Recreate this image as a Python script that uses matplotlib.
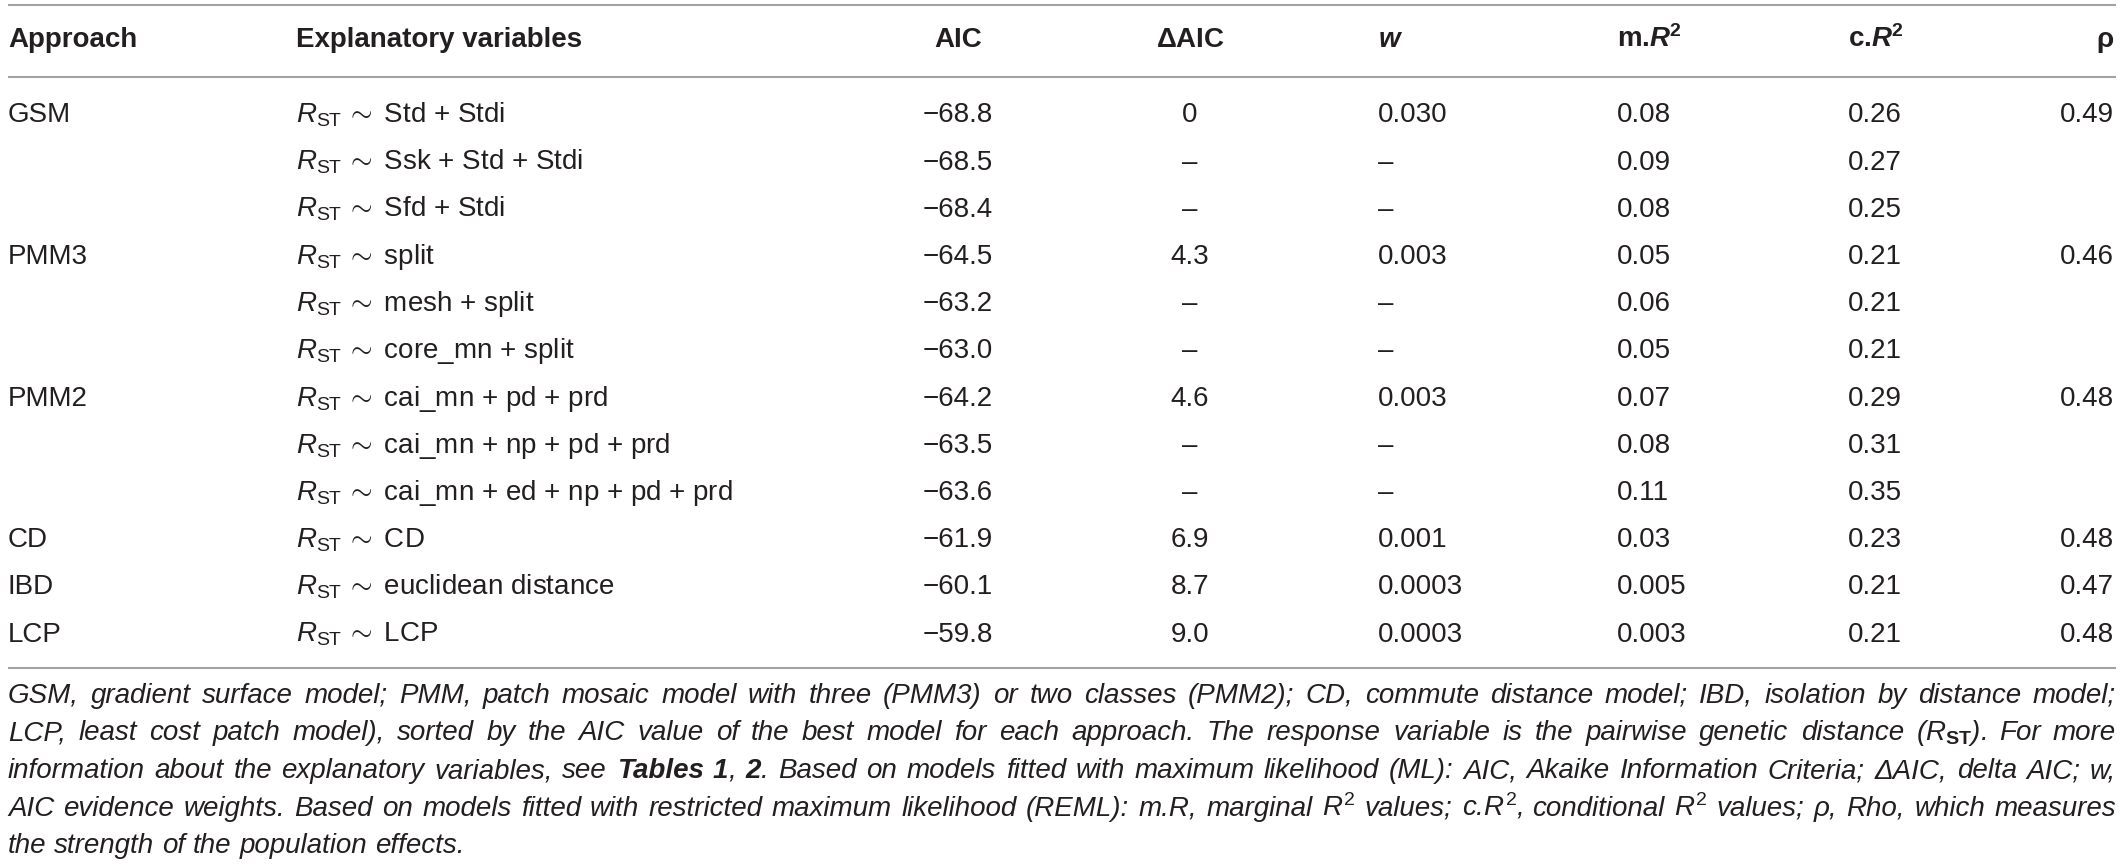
import matplotlib
matplotlib.use("Agg")
import matplotlib.pyplot as plt

plt.rcParams["font.family"] = ["Liberation Sans", "DejaVu Sans"]
plt.rcParams["mathtext.fontset"] = "custom"
plt.rcParams["mathtext.rm"] = "Liberation Sans"
plt.rcParams["mathtext.it"] = "Liberation Sans:italic"
plt.rcParams["mathtext.bf"] = "Liberation Sans:bold"
plt.rcParams["mathtext.bfit"] = "Liberation Sans:italic:bold"

# table content
headers = ["Approach", "Explanatory variables", "AIC", r"$\mathbf{\Delta}$AIC",
           r"$\mathbfit{w}$", r"m.$\mathbfit{R}^{\mathbf{2}}$", r"c.$\mathbfit{R}^{\mathbf{2}}$", "ρ"]
approach = ["GSM", "", "", "PMM3", "", "", "PMM2", "", "", "CD", "IBD", "LCP"]
formulas = ["Std + Stdi", "Ssk + Std + Stdi", "Sfd + Stdi", "split", "mesh + split",
            "core_mn + split", "cai_mn + pd + prd", "cai_mn + np + pd + prd",
            "cai_mn + ed + np + pd + prd", "CD", "euclidean distance", "LCP"]
aic = [-68.8, -68.5, -68.4, -64.5, -63.2, -63.0, -64.2, -63.5, -63.6, -61.9, -60.1, -59.8]
delta_aic = ["0", "–", "–", "4.3", "–", "–", "4.6", "–", "–", "6.9", "8.7", "9.0"]
weights = ["0.030", "–", "–", "0.003", "–", "–", "0.003", "–", "–", "0.001", "0.0003", "0.0003"]
m_r2 = ["0.08", "0.09", "0.08", "0.05", "0.06", "0.05", "0.07", "0.08", "0.11", "0.03", "0.005", "0.003"]
c_r2 = ["0.26", "0.27", "0.25", "0.21", "0.21", "0.21", "0.29", "0.31", "0.35", "0.23", "0.21", "0.21"]
rho = ["0.49", "", "", "0.46", "", "", "0.48", "", "", "0.48", "0.47", "0.48"]

# footnote, one string per printed line, ** toggles bold
footnote = [
    "GSM, gradient surface model; PMM, patch mosaic model with three (PMM3) or two classes (PMM2); CD, commute distance model; IBD, isolation by distance model;",
    r"LCP, least cost patch model), sorted by the AIC value of the best model for each approach. The response variable is the pairwise genetic distance ($R_{\mathbf{ST}}$). For more",
    "information about the explanatory variables, see **Tables 1**, **2**. Based on models fitted with maximum likelihood (ML): AIC, Akaike Information Criteria; ΔAIC, delta AIC; w,",
    r"AIC evidence weights. Based on models fitted with restricted maximum likelihood (REML): m.R, marginal $R^2$ values; c.$R^2$, conditional $R^2$ values; ρ, Rho, which measures",
    "the strength of the population effects.",
]

W, H = 2120, 866
ink = "#231f20"
rule = "#a3a3a3"
fs = 20

fig = plt.figure(figsize=(W / 100, H / 100), dpi=100)
ax = fig.add_axes([0, 0, 1, 1])
ax.set_xlim(0, W)
ax.set_ylim(H, 0)
ax.axis("off")

# rules
for y in (5, 77, 668):
    ax.plot([8, 2116], [y, y], color=rule, lw=1.5, solid_capstyle="butt")

# column anchors: (x, ha)
cols = [(8, "left"), (296, "left"), (958, "center"), (1190, "center"),
        (1378, "left"), (1617, "left"), (1848, "left"), (2114, "right")]

for (x, ha), h in zip(cols, headers):
    ax.text(x, 47, h, ha=ha, va="baseline", fontsize=fs, fontweight="bold", color=ink)

row_y0, row_dy = 122.5, 47.2
for i in range(len(formulas)):
    y = row_y0 + i * row_dy
    cells = [approach[i], r"$R_{\mathrm{ST}}\,\sim$ " + formulas[i],
             "−%.1f" % abs(aic[i]), delta_aic[i], weights[i], m_r2[i], c_r2[i], rho[i]]
    for (x, ha), c in zip(cols, cells):
        if c:
            ax.text(x, y, c, ha=ha, va="baseline", fontsize=fs, color=ink)

# justified footnote
fig.canvas.draw()
renderer = fig.canvas.get_renderer()
left, right = 8, 2116
cap_y = [703, 740.5, 778, 815.5, 853]


def width_of(s, weight="normal"):
    t = ax.text(0, 0, s, fontsize=fs, style="italic", fontweight=weight)
    w = t.get_window_extent(renderer).width
    t.remove()
    return w


space = width_of("a a") - width_of("aa")

for li, line in enumerate(footnote):
    bold = False
    groups = []
    for word in line.split(" "):
        parts = word.split("**")
        grp = []
        for j, p in enumerate(parts):
            if j > 0:
                bold = not bold
            if p:
                weight = "bold" if bold else "normal"
                t = ax.text(0, cap_y[li], p, ha="left", va="baseline", fontsize=fs,
                            style="italic", fontweight=weight, color=ink)
                grp.append((t, t.get_window_extent(renderer).width))
        groups.append(grp)
    widths = [sum(pw for _, pw in g) for g in groups]
    if li < len(footnote) - 1:
        gap = (right - left - sum(widths)) / (len(widths) - 1)
    else:
        gap = space
    x = left
    for grp, gw in zip(groups, widths):
        xx = x
        for t, pw in grp:
            t.set_x(xx)
            xx += pw
        x += gw + gap

fig.savefig("out.png", dpi=100)
